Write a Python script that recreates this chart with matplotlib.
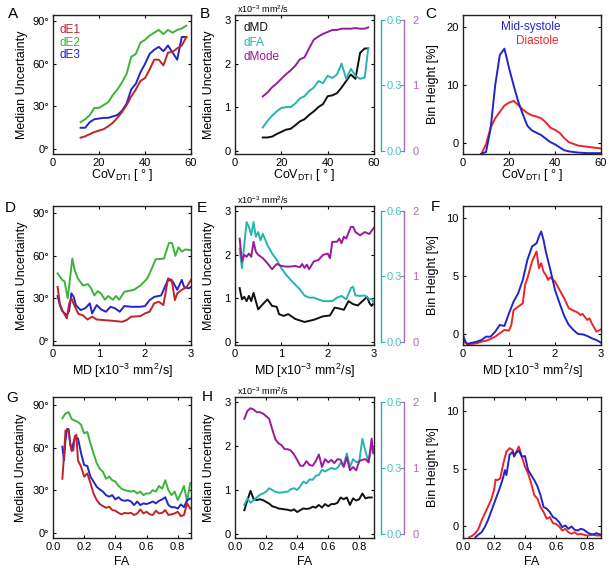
import matplotlib
matplotlib.use("Agg")
import matplotlib.pyplot as plt

plt.rcParams['font.family'] = ['Liberation Sans', 'DejaVu Sans']
plt.rcParams['mathtext.fontset'] = 'custom'
plt.rcParams['mathtext.rm'] = 'Liberation Sans'
plt.rcParams['mathtext.it'] = 'Liberation Sans:italic'
plt.rcParams['mathtext.bf'] = 'Liberation Sans:bold'
plt.rcParams['mathtext.sf'] = 'Liberation Sans'

# ---------------- data ----------------
# row 1: vs CoV_DTI
cov_x = [12, 14, 16, 18, 20, 22, 24, 26, 28, 30, 32, 34, 36, 38, 40, 42, 44, 46, 48, 50, 52, 54, 56, 58]
a_de1 = [8, 9, 10.5, 12, 13, 14, 16, 18.5, 22, 26, 31, 37, 42, 48, 50, 56, 63, 63, 59, 68, 68.5, 71, 73, 79]
a_de2 = [19, 21, 24, 29, 29, 31, 33, 38, 42, 47, 53, 65, 67, 75, 77, 80, 82, 84, 81, 84, 82, 84, 85, 87]
a_de3 = [15, 15, 19, 21, 21.5, 22, 22, 23, 24, 27, 32, 42, 46, 54, 60, 67, 70, 72, 69, 73, 68, 63, 79, 79]

cov_x_b = [12, 14, 16, 18, 20, 22, 24, 26, 28, 30, 32, 34, 36, 38, 40, 42, 44, 46, 48, 50, 52, 54, 56, 57.5]
b_dmd = [0.3, 0.3, 0.32, 0.38, 0.43, 0.48, 0.5, 0.58, 0.67, 0.72, 0.82, 0.9, 1.0, 1.07, 1.25, 1.27,
         1.32, 1.45, 1.6, 1.75, 1.65, 2.25, 2.35, 2.35]
b_dfa = [0.106, 0.136, 0.16, 0.18, 0.196, 0.2, 0.2, 0.216, 0.24, 0.25, 0.274, 0.29, 0.32, 0.31, 0.344,
         0.334, 0.35, 0.4, 0.33, 0.376, 0.344, 0.33, 0.336, 0.47]
b_dmode = [0.83, 0.89, 0.97, 1.03, 1.1, 1.17, 1.23, 1.3, 1.4, 1.43, 1.57, 1.7, 1.75, 1.79, 1.82, 1.85,
           1.85, 1.87, 1.87, 1.87, 1.88, 1.87, 1.87, 1.89]

cov_x_c = [8, 10, 12, 14, 16, 18, 20, 22, 24, 26, 28, 30, 32, 34, 36, 38, 40, 42, 44, 46, 48, 50, 52, 54, 56, 58, 60]
c_sys = [-1.8, -1.5, 2.5, 10, 15.2, 16.3, 13, 10, 7.2, 5, 3, 2.2, 1.8, 1.4, 0.8, 0.2, -0.2, -0.7, -1.2,
         -1.4, -1.5, -1.6, -1.65, -1.7, -1.7, -1.7, -1.7]
c_dia = [-1.8, -0.2, 2.7, 4.3, 5.4, 6.5, 7.0, 7.3, 6.6, 5.8, 5.2, 4.8, 4.6, 4.3, 3.6, 2.7, 2.3, 1.8, 0.9,
         0.2, -0.1, -0.4, -0.5, -0.6, -0.7, -0.8, -0.9]

# row 2: vs MD
d_x_e2 = [0.1, 0.2, 0.25, 0.32, 0.42, 0.47, 0.54, 0.65, 0.76, 0.83, 0.9, 0.97, 1.04, 1.13, 1.2, 1.3, 1.37,
          1.44, 1.55, 1.76, 1.9, 2.05, 2.16, 2.23, 2.41, 2.52, 2.59, 2.66, 2.73, 2.8, 2.88, 3.0]
d_de2 = [47.6, 42.9, 42, 30, 58, 50, 44, 39, 40, 37, 32, 35, 33.5, 29, 31.6, 29, 31.6, 29, 34.6, 36, 39,
         44, 52, 57.5, 58, 69, 69, 60, 66, 63, 64.5, 64]
d_x_e3 = [0.1, 0.15, 0.2, 0.3, 0.35, 0.4, 0.45, 0.5, 0.6, 0.7, 0.8, 0.85, 0.95, 1.05, 1.15, 1.25, 1.35,
          1.45, 1.55, 1.7, 1.9, 2.0, 2.1, 2.2, 2.35, 2.5, 2.6, 2.7, 2.8, 2.85, 2.95, 3.0]
d_de3 = [31.6, 25, 21, 18, 21, 33.5, 31, 25, 21.7, 22.9, 26.4, 19.3, 25.2, 22, 20.5, 24, 22.9, 20.5,
         24.5, 24, 24, 24.5, 28.7, 31, 32, 43, 42, 36, 43, 38, 37, 38]
d_x_e1 = [0.1, 0.15, 0.2, 0.3, 0.35, 0.4, 0.45, 0.55, 0.65, 0.75, 0.85, 0.95, 1.1, 1.3, 1.5, 1.6, 1.7,
          1.9, 2.0, 2.1, 2.2, 2.3, 2.4, 2.45, 2.5, 2.58, 2.65, 2.7, 2.8, 2.9, 3.0]
d_de1 = [38, 26, 21.7, 15.8, 26, 30, 26, 19, 18, 15, 17, 15, 14.6, 14.1, 13.4, 14.6, 17, 17.4, 19.3,
         20.5, 26.4, 27.6, 25.2, 34.6, 44, 43, 28.7, 33.5, 36, 37.7, 43]

e_x_md = [0.1, 0.15, 0.2, 0.25, 0.3, 0.35, 0.4, 0.5, 0.6, 0.7, 0.8, 0.9, 0.95, 1.05, 1.15, 1.3, 1.5, 1.7,
          1.9, 2.05, 2.15, 2.25, 2.35, 2.45, 2.55, 2.65, 2.75, 2.85, 2.9, 2.95, 3.0]
e_dmd = [1.23, 0.97, 1.03, 0.93, 1.05, 0.93, 1.12, 0.74, 0.86, 0.97, 0.82, 0.8, 0.63, 0.59, 0.63, 0.52,
         0.45, 0.5, 0.58, 0.6, 0.78, 0.76, 0.73, 0.93, 0.86, 0.83, 0.93, 1.03, 0.89, 0.82, 0.89]
e_x_fa = [0.1, 0.15, 0.2, 0.25, 0.3, 0.35, 0.4, 0.45, 0.5, 0.55, 0.6, 0.7, 0.8, 0.9, 1.0, 1.1, 1.2, 1.3,
          1.4, 1.5, 1.6, 1.7, 1.8, 1.9, 2.0, 2.1, 2.2, 2.3, 2.4, 2.5, 2.55, 2.6, 2.7, 2.8, 2.9, 2.95, 3.0]
e_dfa = [0.428, 0.338, 0.444, 0.55, 0.528, 0.49, 0.55, 0.482, 0.504, 0.466, 0.496, 0.444, 0.406, 0.376,
         0.338, 0.308, 0.284, 0.262, 0.24, 0.212, 0.202, 0.202, 0.194, 0.186, 0.186, 0.186, 0.202, 0.21,
         0.194, 0.246, 0.252, 0.212, 0.21, 0.212, 0.196, 0.196, 0.178]
e_x_mode = [0.1, 0.15, 0.2, 0.25, 0.3, 0.35, 0.4, 0.45, 0.5, 0.6, 0.7, 0.8, 0.9, 1.0, 1.1, 1.2, 1.3, 1.4,
            1.45, 1.5, 1.55, 1.6, 1.7, 1.8, 1.9, 2.0, 2.05, 2.1, 2.2, 2.25, 2.3, 2.35, 2.4, 2.5, 2.55, 2.6,
            2.7, 2.8, 2.9, 3.0]
e_dmode = [1.58, 1.23, 1.33, 1.3, 1.35, 1.3, 1.53, 1.38, 1.33, 1.28, 1.2, 1.11, 1.19, 1.16, 1.15, 1.15,
           1.16, 1.14, 1.19, 1.13, 1.18, 1.11, 1.23, 1.25, 1.33, 1.35, 1.28, 1.53, 1.53, 1.58, 1.51, 1.61,
           1.58, 1.76, 1.76, 1.68, 1.63, 1.68, 1.65, 1.75]

f_x_sys = [0, 0.05, 0.1, 0.2, 0.3, 0.4, 0.5, 0.6, 0.7, 0.8, 0.9, 1.0, 1.1, 1.2, 1.3, 1.4, 1.5, 1.6, 1.65,
           1.7, 1.75, 1.8, 1.9, 2.0, 2.1, 2.2, 2.3, 2.4, 2.5, 2.6, 2.7, 2.8, 2.9, 3.0]
f_sys = [-0.1, -0.66, -0.86, -0.75, -0.66, -0.52, -0.23, -0.23, 0.2, 0.78, 0.69, 1.79, 2.8, 3.52, 4.67,
         6.4, 7.55, 7.84, 8.41, 8.85, 8.13, 7.12, 5.53, 3.8, 2.65, 1.56, 0.78, 0.35, 0, -0.03, -0.17,
         -0.37, -0.52, -0.75]
f_x_dia = [0, 0.05, 0.1, 0.2, 0.3, 0.4, 0.5, 0.6, 0.7, 0.8, 0.9, 1.0, 1.05, 1.1, 1.2, 1.3, 1.35, 1.4, 1.5,
           1.55, 1.6, 1.65, 1.7, 1.75, 1.8, 1.85, 1.9, 2.0, 2.1, 2.2, 2.3, 2.4, 2.5, 2.55, 2.6, 2.7, 2.75,
           2.8, 2.9, 2.95, 3.0]
f_dia = [-0.37, -0.75, -0.9, -0.86, -0.8, -0.66, -0.58, -0.43, -0.23, 0.06, 0.35, 0.29, 0.78, 2.07, 2.36,
         2.65, 4.24, 4.81, 6.25, 6.69, 7.12, 5.68, 6.11, 5.39, 5.1, 4.67, 4.9, 4.52, 3.8, 3.08, 2.22, 2.02,
         1.84, 1.64, 1.73, 1.21, 1.35, 0.92, 0.2, 0.29, 0.4]

# row 3: vs FA
fa_grid = [0.06, 0.08, 0.10, 0.12, 0.14, 0.16, 0.18, 0.20, 0.22, 0.24, 0.26, 0.28, 0.30, 0.32, 0.34,
           0.36, 0.38, 0.40, 0.42, 0.44, 0.46, 0.48, 0.50, 0.52, 0.54, 0.56, 0.58, 0.60, 0.62, 0.64,
           0.66, 0.68, 0.70, 0.72, 0.74, 0.76, 0.78, 0.80, 0.82, 0.84, 0.86, 0.88]
g_de2 = [80.6, 84, 85, 80, 79, 78, 76, 70, 71, 63, 56, 49, 45, 43, 38, 39.5, 37, 36, 33, 31, 30, 29.5,
         29, 29.5, 27.7, 29, 26.5, 27.7, 27.7, 30, 29, 33, 31, 37, 30, 26.5, 29, 23, 27.7, 33, 22, 35]
g_x_e3 = [0.06, 0.07, 0.08, 0.09, 0.10, 0.11, 0.12, 0.13, 0.14, 0.16, 0.18, 0.20, 0.22, 0.24, 0.26,
          0.28, 0.30, 0.32, 0.34, 0.36, 0.38, 0.40, 0.42, 0.44, 0.46, 0.48, 0.50, 0.52, 0.54, 0.56,
          0.58, 0.60, 0.62, 0.64, 0.66, 0.68, 0.70, 0.72, 0.74, 0.76, 0.78, 0.80, 0.82, 0.84, 0.86, 0.88]
g_de3 = [60.6, 51, 65, 73, 73, 63, 58, 63, 66.5, 66.5, 56, 47.7, 47, 39.5, 36, 32.4, 30.5, 29, 26.5,
         25.4, 26.5, 23.5, 25, 23, 22.5, 23, 22, 19.5, 22, 19.5, 20.7, 20.2, 21, 22, 20.7, 22.5, 23.5,
         25, 19.5, 18, 18, 17, 20, 18, 23, 24]
g_x_e1 = [0.06, 0.07, 0.08, 0.10, 0.11, 0.12, 0.13, 0.14, 0.15, 0.16, 0.18, 0.20, 0.22, 0.24, 0.26,
          0.28, 0.30, 0.32, 0.34, 0.36, 0.38, 0.40, 0.42, 0.44, 0.46, 0.48, 0.50, 0.52, 0.54, 0.56,
          0.58, 0.60, 0.62, 0.64, 0.66, 0.68, 0.70, 0.72, 0.74, 0.76, 0.78, 0.80, 0.82, 0.84, 0.86, 0.88]
g_de1 = [38, 53.6, 72, 72, 63, 57.6, 58, 68, 69, 51, 46.5, 39.5, 41.8, 35, 27.7, 23, 20.2, 18.8, 17.6,
         18.3, 16, 15.5, 14, 13, 14, 13.6, 14, 12.5, 13.6, 16.4, 13.6, 14.8, 13, 12.5, 15.5, 13.6, 14,
         16, 12.5, 13, 13.6, 14.8, 11.7, 12.5, 20.7, 17]

h_dmd = [0.55, 0.78, 0.99, 0.8, 0.78, 0.8, 0.78, 0.74, 0.7, 0.64, 0.62, 0.59, 0.58, 0.57, 0.56, 0.54,
         0.57, 0.51, 0.55, 0.59, 0.58, 0.59, 0.63, 0.61, 0.67, 0.61, 0.69, 0.64, 0.69, 0.69, 0.72, 0.84,
         0.8, 0.84, 0.67, 0.82, 0.77, 0.8, 0.93, 0.82, 0.84, 0.84]
h_x_tw = fa_grid + [0.89]
h_dfa = [0.134, 0.164, 0.144, 0.156, 0.168, 0.18, 0.186, 0.194, 0.21, 0.202, 0.194, 0.19, 0.19, 0.194,
         0.194, 0.206, 0.21, 0.202, 0.218, 0.24, 0.232, 0.25, 0.248, 0.266, 0.27, 0.294, 0.286, 0.294,
         0.302, 0.296, 0.302, 0.324, 0.316, 0.368, 0.306, 0.342, 0.328, 0.332, 0.434, 0.378, 0.328, 0.4,
         0.386]
h_dmode = [1.75, 1.87, 1.91, 1.89, 1.85, 1.85, 1.83, 1.79, 1.75, 1.59, 1.44, 1.38, 1.35, 1.29, 1.29,
           1.27, 1.21, 1.13, 1.04, 1.04, 1.11, 1.05, 1.04, 1.11, 1.21, 1.02, 1.14, 1.09, 1.13, 1.08,
           1.14, 1.13, 1.02, 1.17, 0.97, 1.02, 0.97, 1.11, 1.13, 1.14, 1.09, 1.45, 1.23]

i_x_dia = [0.04, 0.06, 0.08, 0.10, 0.12, 0.14, 0.16, 0.18, 0.20, 0.21, 0.22, 0.24, 0.26, 0.28, 0.30,
           0.32, 0.33, 0.34, 0.36, 0.38, 0.40, 0.42, 0.44, 0.46, 0.48, 0.50, 0.52, 0.54, 0.56, 0.58,
           0.60, 0.62, 0.64, 0.66, 0.68, 0.70, 0.72, 0.74, 0.76, 0.78, 0.80, 0.82, 0.84, 0.86, 0.886]
i_dia = [-0.93, -0.8, -0.58, -0.2, 0.52, 1.1, 1.69, 2.27, 3.15, 4.08, 4.02, 4.17, 5.48, 6.5, 6.8, 6.65,
         6.06, 6.4, 6.94, 6.06, 5.19, 4.6, 3.73, 2.71, 2.42, 1.69, 1.25, 0.67, 0.82, 0.29, 0.23, 0,
         -0.35, -0.2, -0.5, -0.64, -0.5, -0.7, -0.64, -0.72, -0.79, -0.75, -0.7, -0.78, -0.79]
i_x_sys = [0.08, 0.10, 0.12, 0.14, 0.16, 0.18, 0.20, 0.22, 0.24, 0.26, 0.27, 0.28, 0.30, 0.32, 0.33,
           0.34, 0.36, 0.38, 0.40, 0.42, 0.44, 0.46, 0.48, 0.50, 0.52, 0.54, 0.56, 0.58, 0.60, 0.62,
           0.64, 0.66, 0.68, 0.70, 0.72, 0.74, 0.76, 0.78, 0.80, 0.82, 0.84, 0.86, 0.886]
i_sys = [-0.93, -0.7, -0.5, -0.06, 0.52, 1.25, 1.98, 2.71, 3.44, 4.31, 4.9, 4.46, 6.21, 6.5, 6.12, 6.36,
         6.59, 6.06, 6.12, 4.9, 4.46, 4.02, 3.5, 2.71, 1.69, 1.55, 1.25, 0.82, 0.67, 0.38, -0.06, 0.09,
         -0.2, 0, -0.29, -0.35, -0.2, -0.29, -0.5, -0.64, -0.7, -0.58, -0.7]

deg_ticks = [0, 30, 60, 90]
deg_labels = ['0°', '30°', '60°', '90°']

# ---------------- style ----------------
RED = '#c0232b'
RED2 = '#e8262a'
GREEN = '#3cb43a'
BLUE = '#2325c4'
CYAN = '#25b5ad'
PURPLE = '#9a1a9e'
CYAN_T = '#44c4c0'
PURPLE_T = '#a56cb4'
LW = 1.4

W, H = 613, 570
fig = plt.figure(figsize=(W / 100, H / 100), dpi=100)


def rect(left, top, w, h):
    return [left / W, 1 - (top + h) / H, w / W, h / H]


def style(ax, xlim, ylim, xticks, yticks):
    ax.set_xlim(xlim)
    ax.set_ylim(ylim)
    ax.set_xticks(xticks)
    ax.set_yticks(yticks)
    ax.tick_params(direction='in', length=2.5, width=0.8, top=True, right=True,
                   labelsize=8, pad=3)
    for s in ax.spines.values():
        s.set_linewidth(1.0)
        s.set_color('#222222')


def add_twin(ax, scale, ticks, labels, color, labcolor, offset, direction, pad):
    tw = ax.twinx()
    lo, hi = ax.get_ylim()
    tw.set_ylim(lo * scale, hi * scale)
    for k in ['top', 'bottom', 'left']:
        tw.spines[k].set_visible(False)
    sp = tw.spines['right']
    sp.set_position(('outward', offset))
    sp.set_bounds(ticks[0], ticks[-1])
    sp.set_color(color)
    sp.set_linewidth(1.0)
    tw.set_yticks(ticks)
    tw.set_yticklabels(labels)
    tw.tick_params(axis='y', direction=direction, length=3, width=0.8, color=color,
                   labelcolor=labcolor, labelsize=8, pad=pad)
    ax.tick_params(axis='y', right=True)
    return tw


cols = [(53, 138), (235, 139), (463, 138)]
rows = [(15, 139), (206, 139), (397, 141)]
lab_cov = 'CoV$_{\\mathrm{DTI}}$ [ ° ]'
lab_md = 'MD [x10$^{-3}$ mm$^2$/s]'
unit_txt = 'x10$^{-3}$ mm$^2$/s'

axes = {}
for r, (top, h) in enumerate(rows):
    for c, (left, w) in enumerate(cols):
        axes[(r, c)] = fig.add_axes(rect(left, top, w, h))

# ----- A -----
ax = axes[(0, 0)]
ax.plot(cov_x, a_de2, color=GREEN, lw=LW)
ax.plot(cov_x, a_de3, color=BLUE, lw=LW)
ax.plot(cov_x, a_de1, color=RED, lw=LW)
style(ax, (0, 60), (-3.5, 94.5), [0, 20, 40, 60], deg_ticks)
ax.set_yticklabels(deg_labels)
ax.text(0.045, 0.89, 'dE1', color=RED, fontsize=8.5, transform=ax.transAxes, va='center')
ax.text(0.045, 0.80, 'dE2', color=GREEN, fontsize=8.5, transform=ax.transAxes, va='center')
ax.text(0.045, 0.71, 'dE3', color=BLUE, fontsize=8.5, transform=ax.transAxes, va='center')
ax.set_xlabel(lab_cov, fontsize=9, labelpad=-1)
ax.set_ylabel('Median Uncertainty', fontsize=9)
ax.yaxis.set_label_coords(-0.18, 0.5)

# ----- B / E / H (three scales) -----
def triple(ax, x_md, y_md, x_fa, y_fa, x_mode, y_mode, xlim, xticks, xticklabels=None):
    ax.plot(x_md, y_md, color='#111111', lw=LW)
    style(ax, xlim, (-0.08, 3.12), xticks, [0, 1, 2, 3])
    if xticklabels:
        ax.set_xticklabels(xticklabels)
    t1 = add_twin(ax, 0.2, [0, 0.3, 0.6], ['0.0', '0.3', '0.6'], CYAN, CYAN_T, 5, 'out', 1)
    t1.plot(x_fa, y_fa, color=CYAN, lw=LW)
    t2 = add_twin(ax, 2 / 3, [0, 1, 2], ['0', '1', '2'], PURPLE_T, PURPLE_T, 21.5, 'in', 6)
    t2.plot(x_mode, y_mode, color=PURPLE, lw=LW)
    ax.text(0.015, 1.045, unit_txt, fontsize=6.5, transform=ax.transAxes, va='center')
    ax.set_ylabel('Median Uncertainty', fontsize=9)
    ax.yaxis.set_label_coords(-0.145, 0.5)


ax = axes[(0, 1)]
triple(ax, cov_x_b, b_dmd, cov_x_b, b_dfa, cov_x_b, b_dmode, (0, 60), [0, 20, 40, 60])
ax.text(0.06, 0.905, 'dMD', color='#111111', fontsize=8.5, transform=ax.transAxes, va='center')
ax.text(0.06, 0.80, 'dFA', color=CYAN, fontsize=8.5, transform=ax.transAxes, va='center')
ax.text(0.06, 0.70, 'dMode', color=PURPLE, fontsize=8.5, transform=ax.transAxes, va='center')
ax.set_xlabel(lab_cov, fontsize=9, labelpad=-1)

# ----- C -----
ax = axes[(0, 2)]
ax.plot(cov_x_c, c_dia, color=RED2, lw=LW)
ax.plot(cov_x_c, c_sys, color=BLUE, lw=LW)
style(ax, (0, 60), (-1.85, 22.1), [0, 20, 40, 60], [0, 10, 20])
ax.text(0.49, 0.913, 'Mid-systole', color=BLUE, fontsize=8.5, transform=ax.transAxes,
        ha='center', va='center')
ax.text(0.536, 0.81, 'Diastole', color=RED2, fontsize=8.5, transform=ax.transAxes,
        ha='center', va='center')
ax.set_xlabel(lab_cov, fontsize=9, labelpad=-1)
ax.set_ylabel('Bin Height [%]', fontsize=9)
ax.yaxis.set_label_coords(-0.175, 0.5)

# ----- D -----
ax = axes[(1, 0)]
ax.plot(d_x_e2, d_de2, color=GREEN, lw=LW)
ax.plot(d_x_e3, d_de3, color=BLUE, lw=LW)
ax.plot(d_x_e1, d_de1, color=RED, lw=LW)
style(ax, (0, 3), (-3.0, 95.2), [0, 1, 2, 3], deg_ticks)
ax.set_yticklabels(deg_labels)
ax.set_xlabel(lab_md, fontsize=9, labelpad=2)
ax.set_ylabel('Median Uncertainty', fontsize=9)
ax.yaxis.set_label_coords(-0.18, 0.5)

# ----- E -----
ax = axes[(1, 1)]
triple(ax, e_x_md, e_dmd, e_x_fa, e_dfa, e_x_mode, e_dmode, (0, 3), [0, 1, 2, 3])
ax.set_xlabel(lab_md, fontsize=9, labelpad=2)

# ----- F -----
ax = axes[(1, 2)]
ax.plot(f_x_dia, f_dia, color=RED2, lw=LW)
ax.plot(f_x_sys, f_sys, color=BLUE, lw=LW)
style(ax, (0, 3), (-0.95, 11.05), [0, 1, 2, 3], [0, 5, 10])
ax.set_xlabel(lab_md, fontsize=9, labelpad=2)
ax.set_ylabel('Bin Height [%]', fontsize=9)
ax.yaxis.set_label_coords(-0.175, 0.5)

# ----- G -----
fa_ticks = [0, 0.2, 0.4, 0.6, 0.8]
fa_labels = ['0.0', '0.2', '0.4', '0.6', '0.8']
ax = axes[(2, 0)]
ax.plot(fa_grid, g_de2, color=GREEN, lw=LW)
ax.plot(g_x_e3, g_de3, color=BLUE, lw=LW)
ax.plot(g_x_e1, g_de1, color=RED, lw=LW)
style(ax, (0, 0.885), (-3.7, 95.6), fa_ticks, deg_ticks)
ax.set_xticklabels(fa_labels)
ax.set_yticklabels(deg_labels)
ax.set_xlabel('FA', fontsize=9, labelpad=3)
ax.set_ylabel('Median Uncertainty', fontsize=9)
ax.yaxis.set_label_coords(-0.185, 0.5)

# ----- H -----
ax = axes[(2, 1)]
triple(ax, fa_grid, h_dmd, h_x_tw, h_dfa, h_x_tw, h_dmode, (0, 0.895), fa_ticks, fa_labels)
ax.set_xlabel('FA', fontsize=9, labelpad=3)

# ----- I -----
ax = axes[(2, 2)]
ax.plot(i_x_dia, i_dia, color=RED2, lw=LW)
ax.plot(i_x_sys, i_sys, color=BLUE, lw=LW)
style(ax, (0, 0.89), (-1.0, 11.25), fa_ticks, [0, 5, 10])
ax.set_xticklabels(fa_labels)
ax.set_xlabel('FA', fontsize=9, labelpad=3)
ax.set_ylabel('Bin Height [%]', fontsize=9)
ax.yaxis.set_label_coords(-0.175, 0.5)

# panel letters (pixel centres)
letters = [('A', 13, 14), ('B', 205, 14), ('C', 431, 14),
           ('D', 10, 208), ('E', 202, 208), ('F', 435, 207),
           ('G', 12, 398), ('H', 207, 397), ('I', 435, 398)]
for s, px, py in letters:
    fig.text(px / W, 1 - py / H, s, fontsize=11, ha='center', va='center')

fig.savefig('out.png', dpi=100)
